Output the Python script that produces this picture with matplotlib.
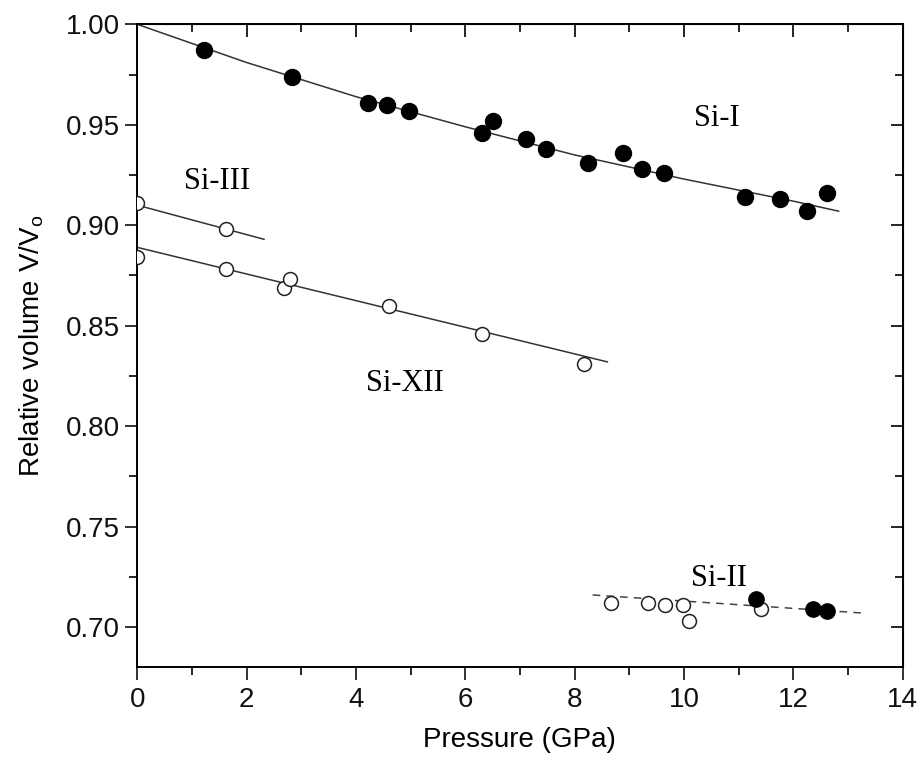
import matplotlib
matplotlib.use("Agg")
import matplotlib.pyplot as plt
from matplotlib.ticker import MultipleLocator

# ---- data ----
si1_p = [1.22, 2.83, 4.22, 4.56, 4.97, 6.31, 6.50, 7.11, 7.47, 8.24, 8.88, 9.24, 9.63, 11.11, 11.76, 12.26, 12.61]
si1_v = [0.987, 0.974, 0.961, 0.960, 0.957, 0.946, 0.952, 0.943, 0.938, 0.931, 0.936, 0.928, 0.926, 0.914, 0.913, 0.907, 0.916]
si1_fit_p = [0, 2, 4, 6, 8, 10, 12, 12.83]
si1_fit_v = [1.000, 0.981, 0.964, 0.949, 0.935, 0.923, 0.912, 0.907]

si3_p = [0.0, 1.63]
si3_v = [0.911, 0.898]
si3_fit_p = [0.0, 2.32]
si3_fit_v = [0.910, 0.893]

si12_p = [0.0, 1.62, 2.68, 2.79, 4.60, 6.31, 8.18]
si12_v = [0.884, 0.878, 0.869, 0.873, 0.860, 0.846, 0.831]
si12_fit_p = [0.0, 4.3, 8.6]
si12_fit_v = [0.889, 0.8605, 0.832]

si2_open_p = [8.67, 9.34, 9.66, 9.99, 10.10, 11.41]
si2_open_v = [0.712, 0.712, 0.711, 0.711, 0.703, 0.709]
si2_fill_p = [11.32, 12.37, 12.62]
si2_fill_v = [0.714, 0.709, 0.708]
si2_fit_p = [8.33, 13.27]
si2_fit_v = [0.716, 0.707]

labels = ["Si-I", "Si-III", "Si-XII", "Si-II"]
label_pos = [(10.6, 0.953), (1.47, 0.922), (4.89, 0.821), (10.65, 0.724)]

xticks = [0, 2, 4, 6, 8, 10, 12, 14]
yticks = [0.70, 0.75, 0.80, 0.85, 0.90, 0.95, 1.00]

# ---- figure ----
plt.rcParams['font.family'] = ['Liberation Sans', 'DejaVu Sans']
fig = plt.figure(figsize=(9.21, 7.6), dpi=100)
ax = fig.add_axes([0.149, 0.122, 0.831, 0.846])

lc = '#333333'
ax.plot(si1_fit_p, si1_fit_v, '-', color=lc, lw=1.1)
ax.plot(si3_fit_p, si3_fit_v, '-', color=lc, lw=1.1)
ax.plot(si12_fit_p, si12_fit_v, '-', color=lc, lw=1.1)
ax.plot(si2_fit_p, si2_fit_v, '--', color='#444444', lw=1.1, dashes=(5, 4))

ax.plot(si1_p, si1_v, 'o', color='black', ms=11.5, mec='black', zorder=3)
ax.plot(si3_p, si3_v, 'o', mfc='white', mec='#222222', ms=10, mew=1.1, zorder=3)
ax.plot(si12_p, si12_v, 'o', mfc='white', mec='#222222', ms=10, mew=1.1, zorder=3)
ax.plot(si2_open_p, si2_open_v, 'o', mfc='white', mec='#222222', ms=10, mew=1.1, zorder=3)
ax.plot(si2_fill_p, si2_fill_v, 'o', color='black', ms=11, zorder=4)

for t, (px, py) in zip(labels, label_pos):
    ax.text(px, py, t, fontsize=22, family=['Liberation Serif', 'DejaVu Serif'],
            ha='center', va='center')

ax.set_xlim(0, 14)
ax.set_ylim(0.68, 1.00)
ax.set_xticks(xticks)
ax.set_yticks(yticks)
ax.set_yticklabels([f"{v:.2f}" for v in yticks])
ax.xaxis.set_minor_locator(MultipleLocator(1))
ax.yaxis.set_minor_locator(MultipleLocator(0.025))
ax.tick_params(which='major', direction='out', length=9, width=1.2, labelsize=20, colors='#111111')
ax.tick_params(which='minor', direction='out', length=5.5, width=1.2)
ax.tick_params(axis='x', which='major', pad=5)
for s in ax.spines.values():
    s.set_linewidth(1.4)

# top and right ticks inward
sx = ax.secondary_xaxis('top')
sx.set_xticks(xticks)
sx.xaxis.set_minor_locator(MultipleLocator(1))
sx.tick_params(which='major', direction='in', length=9, width=1.2, labeltop=False)
sx.tick_params(which='minor', direction='in', length=5.5, width=1.2)
sy = ax.secondary_yaxis('right')
sy.set_yticks(yticks)
sy.yaxis.set_minor_locator(MultipleLocator(0.025))
sy.tick_params(which='major', direction='in', length=9, width=1.2, labelright=False)
sy.tick_params(which='minor', direction='in', length=5.5, width=1.2)

ax.set_xlabel("Pressure (GPa)", fontsize=20, labelpad=10)
ax.set_ylabel("Relative volume V/V$_\\mathregular{o}$", fontsize=20, labelpad=14)

fig.savefig("out.png", dpi=100)
